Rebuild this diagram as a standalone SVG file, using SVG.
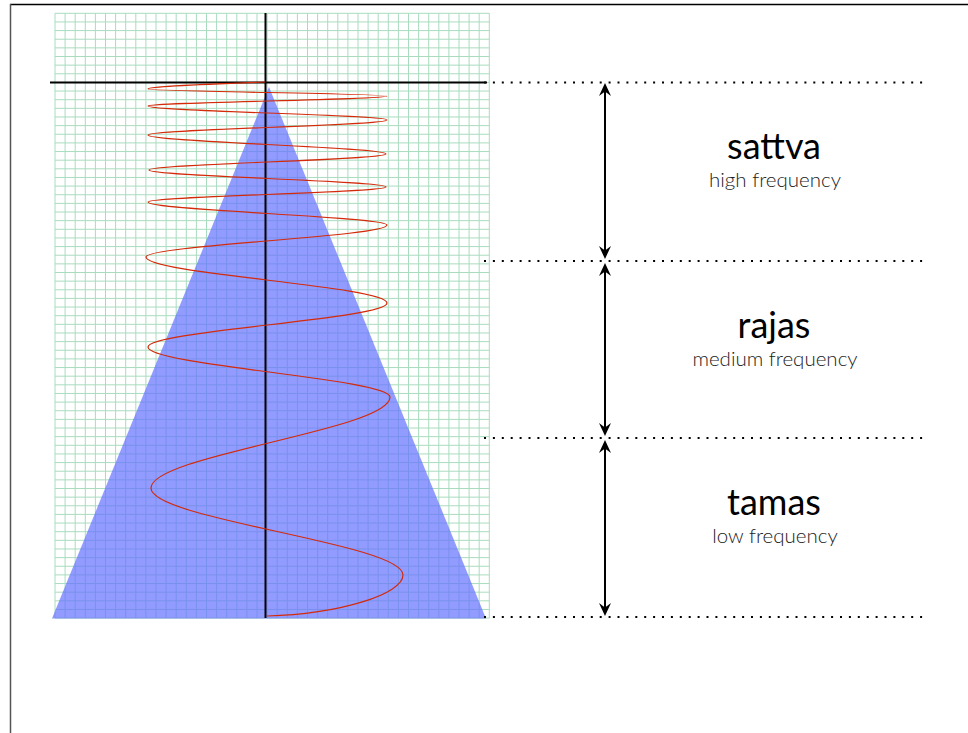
<svg xmlns="http://www.w3.org/2000/svg" width="968" height="733" viewBox="0 0 968 733">
<style>
.grid{fill:none;stroke:#a9dcbf;stroke-width:1}
.axis{fill:none;stroke:#000;stroke-width:2}
.wave{fill:none;stroke:#d42a0a;stroke-width:1.2}
.dots{fill:none;stroke:#000;stroke-width:2;stroke-dasharray:2 6.9}
.arrow{fill:none;stroke:#000;stroke-width:2;marker-start:url(#ah);marker-end:url(#ah)}
.title{font-family:Lato,"Open Sans",sans-serif;font-size:36px;fill:#000;text-anchor:middle}
.sub{font-family:Lato,"Open Sans",sans-serif;font-weight:300;font-size:20.5px;fill:#222;text-anchor:middle}
</style>
<defs>
<marker id="ah" viewBox="-14 -7 15 14" refX="-8" refY="0" markerWidth="15" markerHeight="14" markerUnits="userSpaceOnUse" orient="auto-start-reverse">
<path d="M0,0 L-13,-6 L-8.5,0 L-13,6 Z" fill="#000"/>
</marker>
</defs>
<rect width="968" height="733" fill="#fff"/>
<g id="frame">
<line x1="10" y1="4.5" x2="968" y2="4.5" stroke="#000" stroke-width="1.5"/>
<line x1="10.5" y1="4" x2="10.5" y2="733" stroke="#555" stroke-width="1.5"/>
</g>
<g id="grid">
<path class="grid" d="M55 13.3V618.1M65.1 13.3V618.1M75.2 13.3V618.1M85.3 13.3V618.1M95.4 13.3V618.1M105.5 13.3V618.1M115.6 13.3V618.1M125.7 13.3V618.1M135.8 13.3V618.1M145.9 13.3V618.1M156 13.3V618.1M166.1 13.3V618.1M176.2 13.3V618.1M186.3 13.3V618.1M196.4 13.3V618.1M206.5 13.3V618.1M216.6 13.3V618.1M226.7 13.3V618.1M236.8 13.3V618.1M246.9 13.3V618.1M257 13.3V618.1M267.1 13.3V618.1M277.2 13.3V618.1M287.3 13.3V618.1M297.4 13.3V618.1M307.5 13.3V618.1M317.6 13.3V618.1M327.7 13.3V618.1M337.8 13.3V618.1M347.9 13.3V618.1M358 13.3V618.1M368.1 13.3V618.1M378.2 13.3V618.1M388.3 13.3V618.1M398.4 13.3V618.1M408.5 13.3V618.1M418.6 13.3V618.1M428.7 13.3V618.1M438.8 13.3V618.1M448.9 13.3V618.1M459 13.3V618.1M469.1 13.3V618.1M479.2 13.3V618.1M489.3 13.3V618.1
M55 13.3H489.3M55 21.94H489.3M55 30.58H489.3M55 39.22H489.3M55 47.86H489.3M55 56.5H489.3M55 65.14H489.3M55 73.78H489.3M55 82.42H489.3M55 91.06H489.3M55 99.7H489.3M55 108.34H489.3M55 116.98H489.3M55 125.62H489.3M55 134.26H489.3M55 142.9H489.3M55 151.54H489.3M55 160.18H489.3M55 168.82H489.3M55 177.46H489.3M55 186.1H489.3M55 194.74H489.3M55 203.38H489.3M55 212.02H489.3M55 220.66H489.3M55 229.3H489.3M55 237.94H489.3M55 246.58H489.3M55 255.22H489.3M55 263.86H489.3M55 272.5H489.3M55 281.14H489.3M55 289.78H489.3M55 298.42H489.3M55 307.06H489.3M55 315.7H489.3M55 324.34H489.3M55 332.98H489.3M55 341.62H489.3M55 350.26H489.3M55 358.9H489.3M55 367.54H489.3M55 376.18H489.3M55 384.82H489.3M55 393.46H489.3M55 402.1H489.3M55 410.74H489.3M55 419.38H489.3M55 428.02H489.3M55 436.66H489.3M55 445.3H489.3M55 453.94H489.3M55 462.58H489.3M55 471.22H489.3M55 479.86H489.3M55 488.5H489.3M55 497.14H489.3M55 505.78H489.3M55 514.42H489.3M55 523.06H489.3M55 531.7H489.3M55 540.34H489.3M55 548.98H489.3M55 557.62H489.3M55 566.26H489.3M55 574.9H489.3M55 583.54H489.3M55 592.18H489.3M55 600.82H489.3M55 609.46H489.3M55 618.1H489.3"/>
</g>
<g id="triangle">
<polygon points="269,87 486,618.5 52,618.5" fill="#6470ff" fill-opacity="0.7"/>
</g>
<g id="axes">
<line class="axis" x1="265.5" y1="13" x2="265.5" y2="618"/>
<line class="axis" x1="50" y1="82.5" x2="487" y2="82.5"/>
</g>
<g id="wave">
<path class="wave" d="M265 82 C203.6 84.3 148 86.5 148 89 C148 91.5 387 93.5 387 96 C387 99.6 148 102.4 148 106 C148 111.1 387 114.9 387 120 C387 125.5 148 129.5 148 135 C148 141.9 386 147.1 386 154 C386 159.8 149 164.2 149 170 C149 176.2 386 180.8 386 187 C386 192.5 148 196.5 148 202 C148 210.4 387 216.6 387 225 C387 236.6 146 245.4 146 257 C146 273.7 387 286.3 387 303 C387 319 148 331 148 347 C148 365.2 390 378.8 390 397 C390 430.1 151 454.9 151 488 C151 519.6 403 543.4 403 575 C403 594 340 614 267 616"/>
</g>
<g id="connectors">
<line class="dots" x1="484" y1="82.5" x2="924" y2="82.5"/>
<line class="dots" x1="484" y1="261" x2="924" y2="261"/>
<line class="dots" x1="484" y1="438" x2="924" y2="438"/>
<line class="dots" x1="484" y1="617" x2="924" y2="617"/>
<line class="arrow" x1="605" y1="91" x2="605" y2="251"/>
<line class="arrow" x1="605" y1="271" x2="605" y2="428"/>
<line class="arrow" x1="605" y1="448" x2="605" y2="608"/>
</g>
<g id="sattva">
<text class="title" x="774" y="159">sattva</text>
<text class="sub" x="775" y="187">high frequency</text>
</g>
<g id="rajas">
<text class="title" x="774" y="338">rajas</text>
<text class="sub" x="775" y="366">medium frequency</text>
</g>
<g id="tamas">
<text class="title" x="774" y="515">tamas</text>
<text class="sub" x="775" y="543">low frequency</text>
</g>
</svg>
